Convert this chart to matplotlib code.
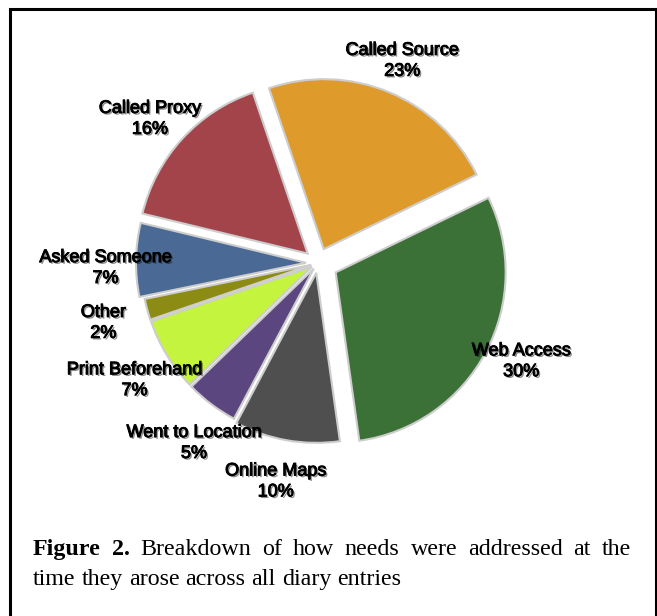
import numpy as np
import matplotlib
matplotlib.use('Agg')
import matplotlib.pyplot as plt
import matplotlib.patheffects as pe

# ---- data ----
categories = ['Web Access', 'Called Source', 'Called Proxy', 'Asked Someone',
              'Other', 'Print Beforehand', 'Went to Location', 'Online Maps']
shares = [30, 23, 16, 7, 2, 7, 5, 10]

caption_bold = ['Figure', '2.']
caption_line1 = ['Breakdown', 'of', 'how', 'needs', 'were', 'addressed', 'at', 'the']
caption_line2 = ['time', 'they', 'arose', 'across', 'all', 'diary', 'entries']

# ---- style ----
colors = ['#3b7136', '#de9b2c', '#a3444a', '#4a6994',
          '#8c8c14', '#c4f43e', '#5c4680', '#4f4f4f']
explode = [20, 15, 14, 12, 7, 7, 7, 10]          # pixel units (radius = 170)
label_dist = [1.21, 1.20, 1.22, 1.18, 1.27, 1.24, 1.245, 1.25]
label_turn = [2.4, 0.0, 1.9, 2.5, 0.4, 1.2, 2.5, -1.0]   # degrees

W, H = 657, 616
R = 170
fig = plt.figure(figsize=(W / 100, H / 100), dpi=100)
ax = fig.add_axes([0, 0, 1, 1])

wedges, _ = ax.pie(
    shares, colors=colors, explode=explode,
    startangle=-82, radius=R, center=(318, H - 263),
    wedgeprops=dict(edgecolor='#cdcdcd', linewidth=1.5))

text_fx = [pe.SimplePatchShadow(offset=(1.2, -1.2), shadow_rgbFace='black', alpha=0.45),
           pe.Stroke(linewidth=0.7, foreground='black'), pe.Normal()]
for w, c, v, d, turn in zip(wedges, categories, shares, label_dist, label_turn):
    ang = np.deg2rad((w.theta1 + w.theta2) / 2 + turn)
    cx, cy = w.center
    ax.text(cx + d * R * np.cos(ang), cy + d * R * np.sin(ang), f'{c}\n{v}%',
            ha='center', va='center', multialignment='center', linespacing=1.3,
            fontsize=13, family='Liberation Sans', color='black',
            path_effects=text_fx)

ax.set_xlim(0, W)
ax.set_ylim(0, H)
ax.set_aspect('equal')
ax.axis('off')

# frame (open at bottom, as in the reference)
ax.plot([9.5, 9.5, 655.5, 655.5], [-10, H - 8.5, H - 8.5, -10],
        color='black', lw=2.2, clip_on=False, solid_joinstyle='miter')

# caption, justified first line
renderer = fig.canvas.get_renderer()
fs = 17.3
x0, x1 = 33, 631


def place(words, weights, y, justify):
    objs = [ax.text(0, y, w, fontsize=fs, family='Liberation Serif',
                    fontweight=wt, va='baseline', ha='left', color='black')
            for w, wt in zip(words, weights)]
    widths = [o.get_window_extent(renderer).width for o in objs]
    if justify:
        gap = (x1 - x0 - sum(widths)) / (len(objs) - 1)
    else:
        gap = 0.25 * fs * 100 / 72
    x = x0
    for o, wd in zip(objs, widths):
        o.set_x(x)
        x += wd + gap


words1 = caption_bold + caption_line1
weights1 = ['bold'] * len(caption_bold) + ['normal'] * len(caption_line1)
place(words1, weights1, H - 555, True)
place(caption_line2, ['normal'] * len(caption_line2), H - 585, False)

fig.savefig('out.png', dpi=100)
